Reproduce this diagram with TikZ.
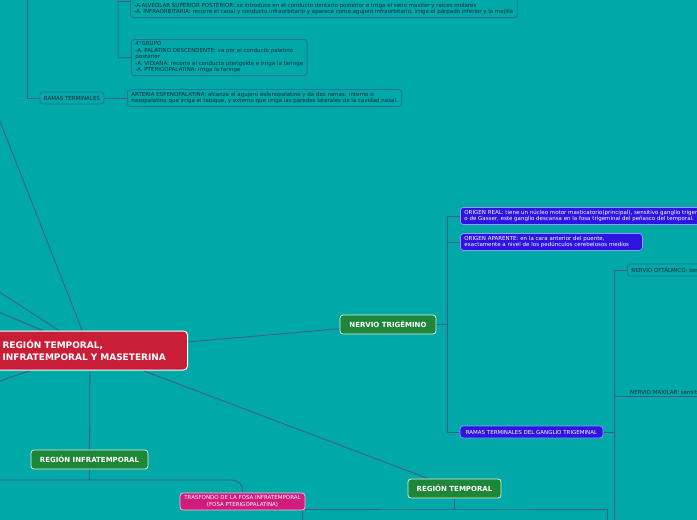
\documentclass[tikz,border=0pt]{standalone}
\usepackage{fontspec}
\setmainfont{DejaVu Sans}
\usetikzlibrary{positioning,calc}
\definecolor{MapTeal}{RGB}{0,168,168}
\definecolor{LinkBlue}{RGB}{70,88,145}
\definecolor{NoteEdge}{RGB}{40,112,150}
\definecolor{NoteText}{RGB}{20,40,60}
\definecolor{RootRed}{RGB}{200,30,55}
\definecolor{TopicGreen}{RGB}{30,135,55}
\definecolor{SubBlue}{RGB}{45,20,225}
\definecolor{SubEdge}{RGB}{150,150,255}
\definecolor{PinkSub}{RGB}{208,28,125}
\pgfdeclarelayer{back}
\pgfsetlayers{back,main}
\tikzset{
  link/.style={draw=LinkBlue,line width=0.8pt},
  note/.style={draw=NoteEdge,fill=MapTeal,rounded corners=3pt,line width=0.8pt,
    inner xsep=4pt,inner ysep=2.5pt,align=left,text=NoteText,
    font=\fontsize{5.5}{6.5}\selectfont},
  root/.style={draw=white,fill=RootRed,rounded corners=4pt,line width=1pt,
    text=white,align=left,inner xsep=10pt,font=\fontsize{9}{12}\bfseries\selectfont},
  topic/.style={draw=white!85!TopicGreen,fill=TopicGreen,rounded corners=3pt,line width=0.8pt,
    text=white,minimum height=19pt,font=\fontsize{7}{8}\bfseries\selectfont},
  sub/.style={draw=SubEdge,fill=SubBlue,rounded corners=3pt,line width=0.8pt,
    inner xsep=4pt,inner ysep=2.5pt,align=left,text=white,
    font=\fontsize{5.5}{6.5}\selectfont},
  pinksub/.style={draw=white!70!PinkSub,fill=PinkSub,rounded corners=3pt,line width=0.8pt,
    inner ysep=2pt,align=center,text=white,font=\fontsize{5.5}{6.5}\selectfont},
}

\begin{document}
\begin{tikzpicture}[x=1pt,y=-1pt]
\useasboundingbox (0,0) rectangle (697,520);
\begin{pgfonlayer}{back}
\fill[MapTeal] (0,0) rectangle (697,520);
\end{pgfonlayer}

\node[root,anchor=west,text width=175pt,minimum height=39pt] (center) at (-8,350.5)
  {REGIÓN TEMPORAL,\\INFRATEMPORAL Y MASETERINA};

\node[topic,minimum width=96pt] (trig) at (388,324.5) {NERVIO TRIGÉMINO};
\node[topic,minimum width=117pt] (rinfra) at (89.5,459.5) {REGIÓN INFRATEMPORAL};
\node[topic,minimum width=93pt] (rtemp) at (454.5,488.5) {REGIÓN TEMPORAL};

\node[sub,anchor=west] (oreal) at (460,216)
  {ORIGEN REAL: tiene un núcleo motor masticatorio(principal), sensitivo ganglio trigeminal\\
   o de Gasser, este ganglio descansa en la fosa trigeminal del peñasco del temporal.};
\node[sub,anchor=west,text width=174pt] (oapar) at (460,242)
  {ORIGEN APARENTE: en la cara anterior del puente,\\
   exactamente a nivel de los pedúnculos cerebelosos medios};
\node[sub,align=center,minimum width=143pt,minimum height=12pt,inner ysep=1.5pt] (rterm) at (531.5,432)
  {RAMAS TERMINALES DEL GANGLIO TRIGEMINAL};
\node[note,anchor=west,minimum height=12pt] (oft) at (627,270) {NERVIO OFTÁLMICO: sensitivo};
\node[anchor=south west,inner sep=1pt,text=NoteText,font=\fontsize{5.5}{6.5}\selectfont] (maxi) at (629,396)
  {NERVIO MAXILAR: sensitivo};

\node[pinksub,minimum width=125pt,minimum height=17pt] (trasf) at (242.5,501.5)
  {TRASFONDO DE LA FOSA INFRATEMPORAL\\(FOSA PTERIGOPALATINA)};

\node[note,anchor=south west] (topbox) at (130,18)
  {\mbox{}\\\mbox{}\\\mbox{}\\
   -A.ALVEOLAR SUPERIOR POSTERIOR: se introduce en el conducto dentario posterior e irriga el seno maxilar y raíces molares\\
   -A. INFRAORBITARIA: recorre el canal y conducto infraorbitario y aparece como agujero infraorbitario, irriga el párpado inferior y la mejilla};
\node[note,anchor=north west] (grupo4) at (131,39)
  {4°GRUPO\\
   -A. PALATINO DESCENDENTE: va por el conducto palatino\\
   posterior\\
   -A. VIDIANA: recorre el conducto pterigoide e irriga la faringe\\
   -A. PTERIGOPALATINA: irriga la faringe};
\node[note,minimum height=12pt] (ramas) at (72,98) {RAMAS TERMINALES};
\node[note,anchor=west] (arteria) at (127,98)
  {ARTERIA ESFENOPALATINA: alcanza el agujero esfenopalatino y da dos ramas: interno o\\
   nasopalatino que irriga el tabique, y externo que irriga las paredes laterales de la cavidad nasal.};

\coordinate (off1) at (-30,45);
\coordinate (off2) at (-30,273);
\coordinate (off3) at (-30,300);
\coordinate (off4) at (-30,391);
\coordinate (off5) at (-10,480);
\coordinate (ij) at (89.5,480);
\coordinate (tj) at (447,324.5);
\coordinate (rj) at (614,432);
\coordinate (rj2) at (614,530);
\coordinate (mx) at (705,396);
\coordinate (bj) at (454.5,509);
\coordinate (b1) at (302,530);
\coordinate (b2) at (607,530);
\coordinate (k0) at (118,-30);
\coordinate (k4) at (118,58);
\coordinate (r0) at (27,-30);

\begin{pgfonlayer}{back}
\draw[link] (center) -- (off1);
\draw[link] (center) -- (off2);
\draw[link] (center) -- (off3);
\draw[link] (center) -- (off4);
\draw[link] (center) -- (trig);
\draw[link] (center) -- (rtemp);
\draw[link] (center) -- (rinfra);
\draw[link] (rinfra) -- (ij);
\draw[link,rounded corners=10pt] (off5) -- (ij) -| (trasf.north);
\draw[link] (trig.east) -- (tj);
\draw[link] (tj) |- (oreal.west);
\draw[link] (tj) |- (oapar.west);
\draw[link] (tj) |- (rterm.west);
\draw[link] (rterm.east) -- (rj);
\draw[link] (rj) |- (oft.west);
\draw[link] (rj) |- (mx);
\draw[link] (rj) -- (rj2);
\draw[link] (rtemp.south) -- (bj);
\draw[link] (b1) |- (bj) -| (b2);
\draw[link] (k0) -- (k4) -- (grupo4.west);
\draw[link] (k0 |- topbox.west) -- (topbox.west);
\draw[link] (r0) |- (ramas.west);
\draw[link] (ramas) -- (arteria);
\end{pgfonlayer}
\end{tikzpicture}
\end{document}
